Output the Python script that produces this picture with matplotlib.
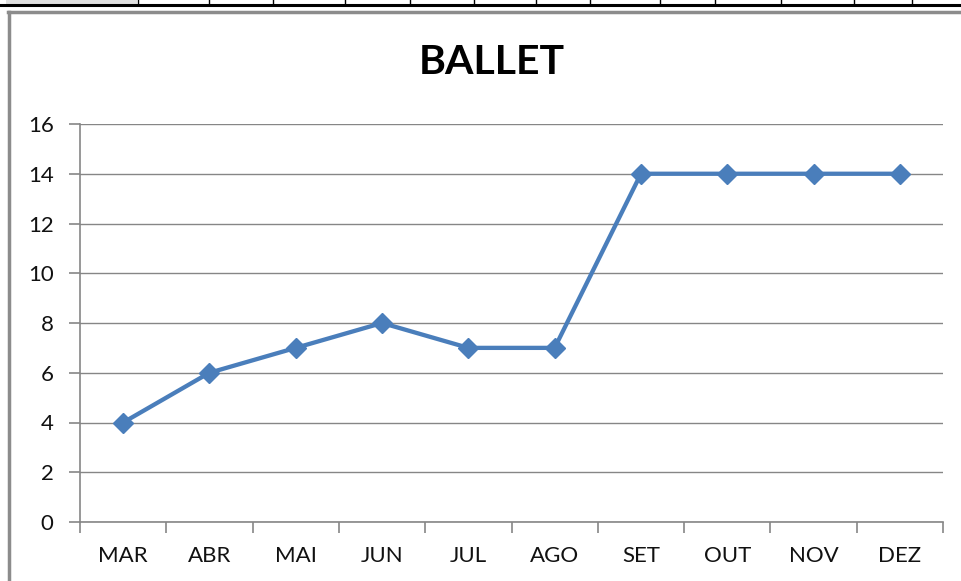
import matplotlib
matplotlib.use('Agg')
from matplotlib import pyplot as plt
from matplotlib.lines import Line2D
from matplotlib.patches import Rectangle

months = ['MAR', 'ABR', 'MAI', 'JUN', 'JUL', 'AGO', 'SET', 'OUT', 'NOV', 'DEZ']
values = [4, 6, 7, 8, 7, 7, 14, 14, 14, 14]
yticks = [0, 2, 4, 6, 8, 10, 12, 14, 16]
# spreadsheet column separators seen above the chart (pixels)
col_seps = [138, 209, 273, 345, 410, 474, 536, 590, 660, 715, 781, 854, 912]

plt.rcParams['font.family'] = ['Lato', 'DejaVu Sans']

W, H = 962, 581
fig = plt.figure(figsize=(W / 100, H / 100), dpi=100)

def fx(px):
    return px / W

def fy(py):
    return 1 - py / H

# header strip of the sheet and the chart frame
fig.patches.append(Rectangle((fx(6), fy(4)), fx(131), 4 / H, transform=fig.transFigure,
                             facecolor='#e0e0e0', edgecolor='none'))
fig.lines.append(Line2D([0, 1], [fy(4.5), fy(4.5)], transform=fig.transFigure, color='black', lw=2.2))
for px in col_seps:
    fig.lines.append(Line2D([fx(px), fx(px)], [fy(0), fy(5)], transform=fig.transFigure,
                            color='black', lw=1))
fig.lines.append(Line2D([fx(9), fx(9)], [fy(12), 0], transform=fig.transFigure, color='#8c8c8c', lw=2.5))
fig.lines.append(Line2D([fx(8), 1], [fy(12), fy(12)], transform=fig.transFigure, color='#8c8c8c', lw=2.5))

ax = fig.add_axes([80 / W, 1 - 522 / H, 863 / W, 398 / H])
x = list(range(len(months)))
ax.plot(x, values, color='#4A7EBB', lw=3.1, marker='D', markersize=10.5,
        markerfacecolor='#4A7EBB', markeredgecolor='#4A7EBB', zorder=3)

ax.set_xlim(-0.5, len(months) - 0.5)
ax.set_ylim(0, 16)
ax.set_yticks(yticks)
ax.set_xticks([i - 0.5 for i in range(len(months) + 1)])
ax.set_xticklabels([])
ax.set_xticks(x, minor=True)
ax.set_xticklabels(months, minor=True)
ax.tick_params(axis='x', which='minor', length=0, pad=17, labelsize=16, labelcolor='#111111')
ax.tick_params(axis='x', which='major', length=8, color='#868686', width=1.2)
ax.tick_params(axis='y', length=8, color='#868686', width=1.2, labelsize=16, pad=11,
               labelcolor='#111111')
ax.grid(axis='y', color='#868686', lw=1)
ax.set_axisbelow(True)
for s in ['top', 'right']:
    ax.spines[s].set_visible(False)
for s in ['left', 'bottom']:
    ax.spines[s].set_color('#868686')
    ax.spines[s].set_linewidth(1.2)

fig.text(492 / W, 1 - 63 / H, 'BALLET', ha='center', va='center', fontsize=29.5, fontweight='bold')

fig.savefig('out.png', dpi=100)
